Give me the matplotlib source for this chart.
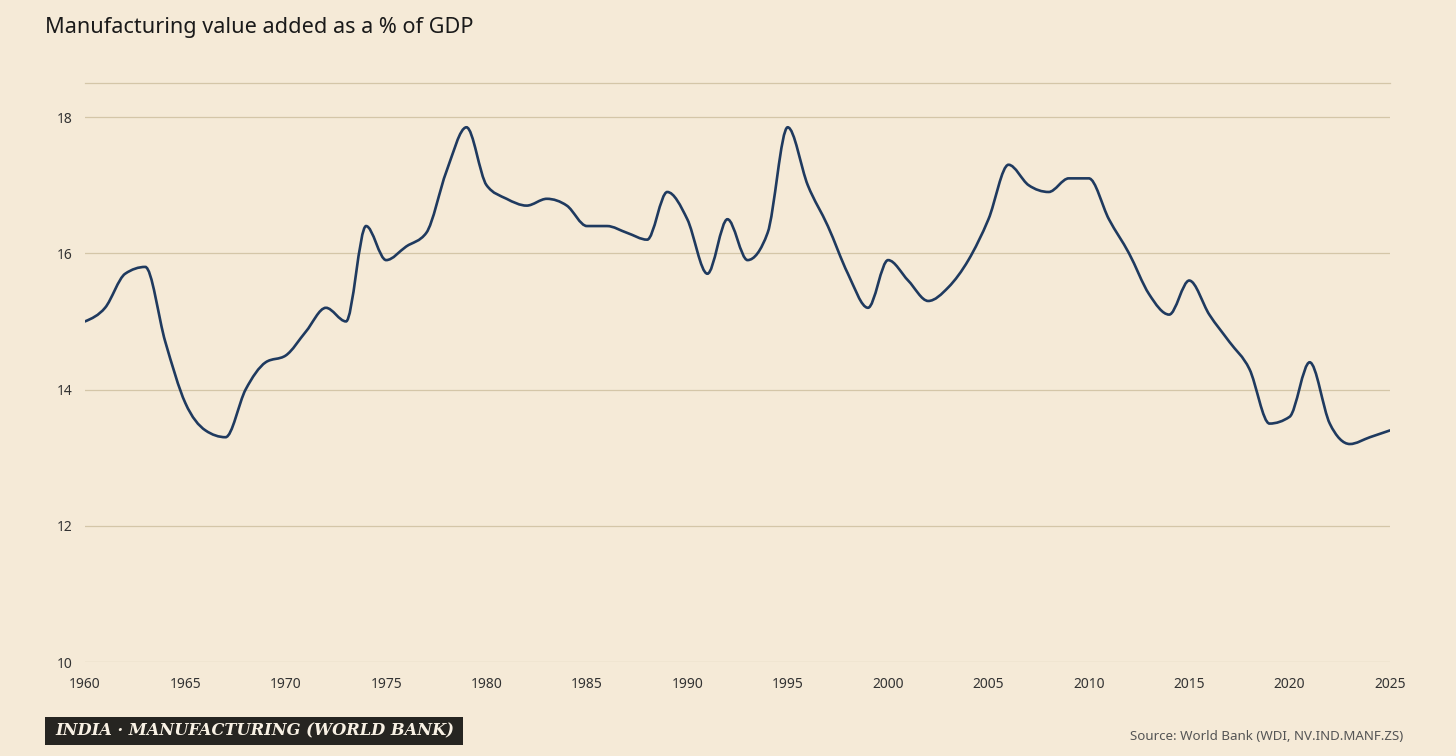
import numpy as np
import matplotlib
matplotlib.use("Agg")
import matplotlib.pyplot as plt
from matplotlib.path import Path
from matplotlib.patches import PathPatch, Rectangle

# ---- data ----
years = list(range(1960, 2026))
manuf_pct = [
    15.0, 15.2, 15.7, 15.8, 14.7, 13.8, 13.4, 13.3, 14.0, 14.4,
    14.5, 14.85, 15.2, 15.0, 16.4, 15.9, 16.1, 16.3, 17.2, 17.85,
    17.0, 16.8, 16.7, 16.8, 16.7, 16.4, 16.4, 16.3, 16.2, 16.9,
    16.5, 15.7, 16.5, 15.9, 16.3, 17.85, 17.0, 16.4, 15.7, 15.2,
    15.9, 15.6, 15.3, 15.5, 15.9, 16.5, 17.3, 17.0, 16.9, 17.1,
    17.1, 16.5, 16.0, 15.4, 15.1, 15.6, 15.1, 14.7, 14.3, 13.5,
    13.6, 14.4, 13.5, 13.2, 13.3, 13.4,
]
y_ticks = [10, 12, 14, 16, 18]
x_ticks = list(range(1960, 2026, 5))

title = "Manufacturing value added as a % of GDP"
badge = "INDIA · MANUFACTURING (WORLD BANK)"
source = "Source: World Bank (WDI, NV.IND.MANF.ZS)"

BG = "#f5ead7"
GRID = "#d4c6a8"
LINE = "#1f3a5f"
TXT = "#333333"
W, H = 1456, 756


def monotone_path(xs, ys):
    """Smooth curve through the points (monotone cubic, like d3.curveMonotoneX)."""
    xs = np.asarray(xs, float)
    ys = np.asarray(ys, float)
    n = len(xs)
    h = np.diff(xs)
    s = np.diff(ys) / h
    t = np.zeros(n)
    for i in range(1, n - 1):
        p = (s[i - 1] * h[i] + s[i] * h[i - 1]) / (h[i - 1] + h[i])
        t[i] = (np.sign(s[i - 1]) + np.sign(s[i])) * min(abs(s[i - 1]), abs(s[i]), 0.5 * abs(p))
    t[0] = (3 * s[0] - t[1]) / 2
    t[-1] = (3 * s[-1] - t[-2]) / 2
    verts = [(xs[0], ys[0])]
    codes = [Path.MOVETO]
    for i in range(n - 1):
        d = h[i] / 3
        verts += [(xs[i] + d, ys[i] + d * t[i]),
                  (xs[i + 1] - d, ys[i + 1] - d * t[i + 1]),
                  (xs[i + 1], ys[i + 1])]
        codes += [Path.CURVE4] * 3
    return Path(verts, codes)


plt.rcParams["font.family"] = ["Noto Sans", "DejaVu Sans"]

fig = plt.figure(figsize=(W / 100, H / 100), dpi=100, facecolor=BG)
ax = fig.add_axes([85 / W, 1 - 662 / H, 1305 / W, (662 - 83) / H])
ax.set_facecolor(BG)

ax.add_patch(PathPatch(monotone_path(years, manuf_pct), facecolor="none",
                       edgecolor=LINE, linewidth=1.9, capstyle="round", zorder=3))

ax.set_xlim(1960, 2025)
ax.set_ylim(10, 18.5)
ax.set_yticks(y_ticks)
ax.set_xticks(x_ticks)
ax.grid(axis="y", color=GRID, linewidth=0.9)
ax.grid(axis="x", visible=False)
for side in ["left", "right", "bottom"]:
    ax.spines[side].set_visible(False)
ax.spines["top"].set_color(GRID)
ax.spines["top"].set_linewidth(0.9)
ax.tick_params(axis="both", length=0, labelsize=10, labelcolor=TXT)
ax.tick_params(axis="y", pad=9)
ax.tick_params(axis="x", pad=11)

fig.text(45 / W, 1 - 33 / H, title, fontsize=15.6, color="#1a1a1a",
         ha="left", va="baseline")

# dark label badge, bottom left
fig.patches.append(Rectangle((45 / W, 1 - 745 / H), 418 / W, 28 / H,
                             transform=fig.transFigure, facecolor="#262521",
                             edgecolor="none"))
fig.text(255 / W, 1 - 731 / H, badge, fontsize=11.7, color="#f8f1e4",
         family=["DejaVu Serif"], style="italic", weight="bold",
         ha="center", va="center")

fig.text(1403 / W, 1 - 740 / H, source, fontsize=9.6, color="#555555",
         ha="right", va="baseline")

fig.savefig("out.png", dpi=100, facecolor=BG)
